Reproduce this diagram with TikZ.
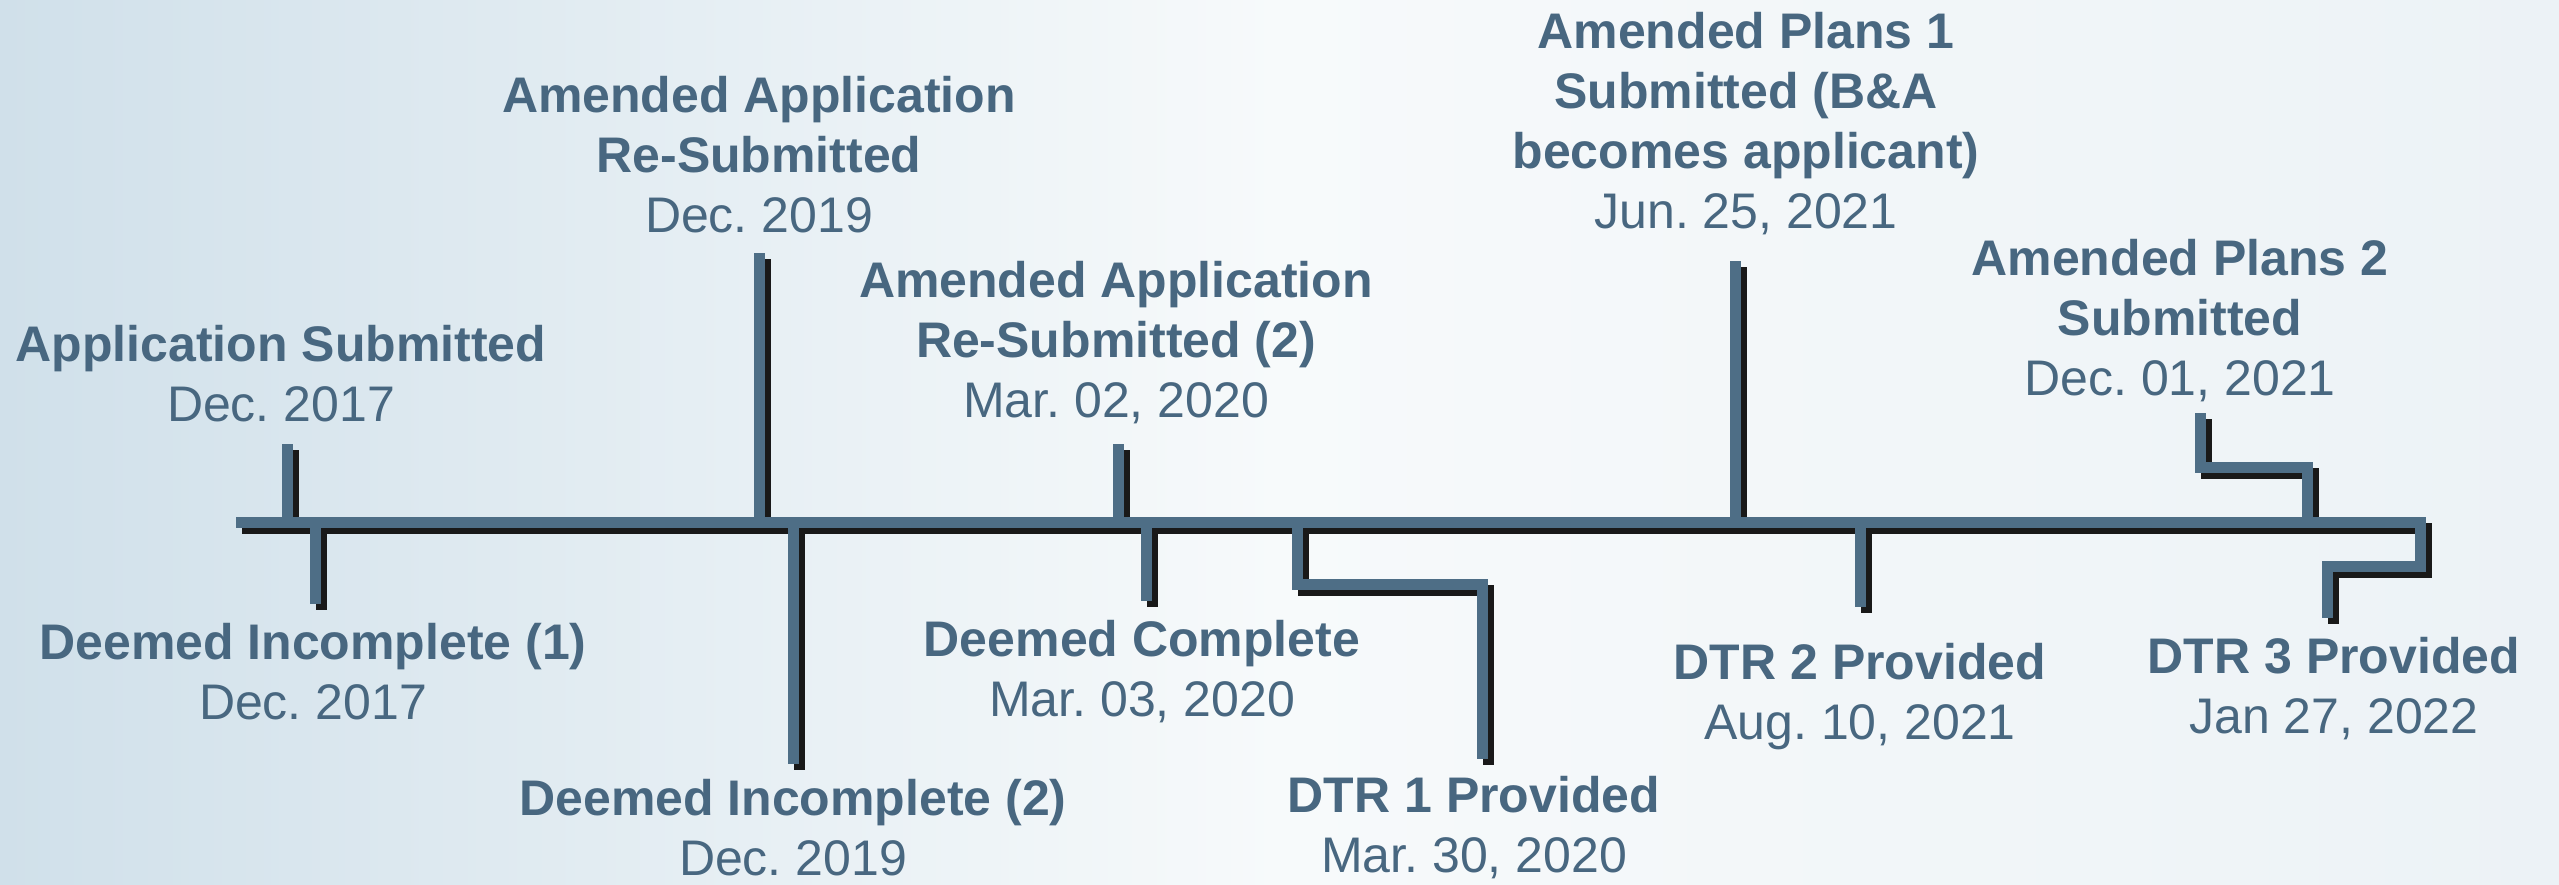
\documentclass[tikz,border=0pt]{standalone}
\usepackage{fontspec}
\setmainfont{Liberation Sans}
\frenchspacing
\definecolor{txt}{RGB}{72,103,128}
\definecolor{ln}{RGB}{78,110,134}
\definecolor{bgL}{RGB}{208,224,234}
\definecolor{bgM}{RGB}{247,250,251}
\definecolor{bgR}{RGB}{236,242,246}
\tikzset{
  lbl/.style={text=txt, align=center, font=\fontsize{50}{60}\selectfont, inner sep=0pt},
  mainline/.style={draw=ln, line width=11pt, line cap=butt, line join=miter},
  shadowline/.style={draw=black!90, line width=11pt, line cap=butt, line join=miter},
}
\newcommand{\tlpaths}[1]{%
  \draw[#1] (L0) -- (Lend) -- (d3a) -- (d3b) -- (d3c);
  \draw[#1] (u1) -- (u1|-L0);
  \draw[#1] (u2) -- (u2|-L0);
  \draw[#1] (u3) -- (u3|-L0);
  \draw[#1] (u4) -- (u4|-L0);
  \draw[#1] (u5) -- (u5a) -- (u5b) -- (u5b|-L0);
  \draw[#1] (b1|-L0) -- (b1);
  \draw[#1] (b2|-L0) -- (b2);
  \draw[#1] (b3|-L0) -- (b3);
  \draw[#1] (b4|-L0) -- (b4a) -- (b4b) -- (b4c);
  \draw[#1] (b5|-L0) -- (b5);
}
\begin{document}
\begin{tikzpicture}[x=1pt,y=-1pt]
\useasboundingbox (0,0) rectangle (2559,884);
\shade[left color=bgL, right color=bgR, middle color=bgM] (0,0) rectangle (2559,884);
% named points
\coordinate (L0) at (236,522);
\coordinate (Lend) at (2420,522);
\coordinate (d3a) at (2420,566);
\coordinate (d3b) at (2327,566);
\coordinate (d3c) at (2327,618);
\coordinate (u1) at (287,444);
\coordinate (u2) at (759,253);
\coordinate (u3) at (1118,444);
\coordinate (u4) at (1735,261);
\coordinate (u5) at (2200,413);
\coordinate (u5a) at (2200,467);
\coordinate (u5b) at (2307,467);
\coordinate (b1) at (315,604);
\coordinate (b2) at (793,764);
\coordinate (b3) at (1146,601);
\coordinate (b4a) at (1297,584);
\coordinate (b4b) at (1482,584);
\coordinate (b4c) at (1482,759);
\coordinate (b5) at (1860,607);
\coordinate (b4) at (1297,584);
% shadows then lines
\begin{scope}[transform canvas={xshift=6pt,yshift=-6pt}]
\tlpaths{shadowline}
\end{scope}
\tlpaths{mainline}
% labels
\node[lbl] (t1) at (281,374) {\textbf{Application Submitted}\\Dec. 2017};
\node[lbl] (t2) at (759,155) {\textbf{Amended Application}\\\textbf{Re-Submitted}\\Dec. 2019};
\node[lbl] (t3) at (1116,343) {\textbf{Amended Application}\\\textbf{Re-Submitted (2)}\\Mar. 02, 2020};
\node[lbl] (t4) at (1746,124) {\textbf{Amended Plans 1}\\\textbf{Submitted (B\&A}\\\textbf{becomes applicant)}\\Jun. 25, 2021};
\node[lbl] (t5) at (2180,321) {\textbf{Amended Plans 2}\\\textbf{Submitted}\\Dec. 01, 2021};
\node[lbl] (s1) at (313,672) {\textbf{Deemed Incomplete (1)}\\Dec. 2017};
\node[lbl] (s2) at (793,828) {\textbf{Deemed Incomplete (2)}\\Dec. 2019};
\node[lbl] (s3) at (1142,672) {\textbf{Deemed Complete}\\Mar. 03, 2020};
\node[lbl] (s4) at (1474,828) {\textbf{DTR 1 Provided}\\Mar. 30, 2020};
\node[lbl] (s5) at (1860,697) {\textbf{DTR 2 Provided}\\Aug. 10, 2021};
\node[lbl] (s6) at (2334,689) {\textbf{DTR 3 Provided}\\Jan 27, 2022};
\end{tikzpicture}
\end{document}
